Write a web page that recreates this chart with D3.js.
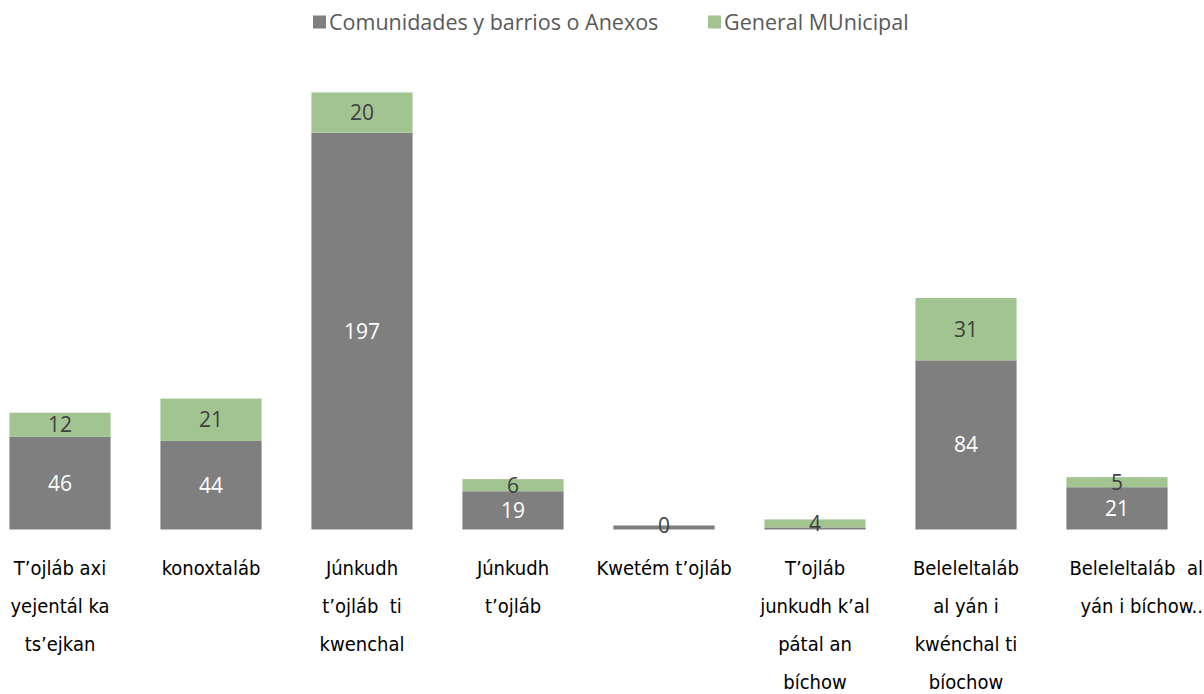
<!DOCTYPE html>
<html>
<head>
<meta charset="utf-8">
<script src="https://cdn.jsdelivr.net/npm/d3@7"></script>
<style>
	body { margin: 0; background: #fff; }
	svg { display: block; }
	text { white-space: pre; }
</style>
</head>
<body>
<svg class="chart"></svg>
<script>
var categories = [
	["T\u2019ojláb axi", "yejentál ka", "ts\u2019ejkan"],
	["konoxtaláb"],
	["Júnkudh", "t\u2019ojláb  ti", "kwenchal"],
	["Júnkudh", "t\u2019ojláb"],
	["Kwetém t\u2019ojláb"],
	["T\u2019ojláb", "junkudh k\u2019al", "pátal an", "bíchow"],
	["Beleleltaláb", "al yán i", "kwénchal ti", "bíochow"],
	["Beleleltaláb  al", "yán i bíchow.."]
];
var seriesNames = ["Comunidades y barrios o Anexos", "General MUnicipal"];
var comunidades = [46, 44, 197, 19, 2, 1, 84, 21];
var general = [12, 21, 20, 6, 0, 4, 31, 5];

var width = 1204;
var height = 694;
var baseline = 529.5;
var colors = ["#7f7f7f", "#a2c491"];

var svg = d3.select(".chart")
	.attr("width", width)
	.attr("height", height);

var data = categories.map((c, i) => ({
	key: i,
	lines: c,
	comunidades: comunidades[i],
	general: general[i]
}));

var x = d3.scaleBand()
	.domain(data.map(d => d.key))
	.range([-15.5, 1192.5])
	.paddingInner(0.33)
	.paddingOuter(0.165);

var y = d3.scaleLinear()
	.domain([0, 250])
	.range([baseline, 26]);

var stack = d3.stack().keys(["comunidades", "general"]);
var layers = stack(data);

var groups = svg.selectAll(".layer")
	.data(layers)
	.enter()
	.append("g")
	.attr("class", "layer")
	.attr("fill", (d, i) => colors[i]);

groups.selectAll("rect")
	.data(d => d)
	.enter()
	.append("rect")
	.attr("x", d => x(d.data.key))
	.attr("y", d => y(d[1]))
	.attr("width", x.bandwidth())
	.attr("height", d => y(d[0]) - y(d[1]));

// data labels, white on gray, dark on green
var labelColors = ["#ffffff", "#404040"];
layers.forEach(function(layer, li) {
	svg.append("g")
		.selectAll("text")
		.data(layer.filter(d => li == 1 || y(d[0]) - y(d[1]) > 12))
		.enter()
		.append("text")
		.attr("x", d => x(d.data.key) + x.bandwidth() / 2)
		.attr("y", d => (y(d[0]) + y(d[1])) / 2)
		.attr("dy", "0.36em")
		.attr("text-anchor", "middle")
		.attr("font-family", "Open Sans, sans-serif")
		.attr("font-size", 21)
		.attr("fill", labelColors[li])
		.text(d => d[1] - d[0]);
});

// category labels
var xLabels = svg.append("g")
	.attr("font-family", "DejaVu Sans Condensed, DejaVu Sans, sans-serif")
	.attr("font-size", 20)
	.attr("fill", "#000");

data.forEach(function(d, i) {
	var last = i == data.length - 1;
	var cx = last ? width - 1 : x(d.key) + x.bandwidth() / 2;
	xLabels.append("text")
		.attr("text-anchor", last ? "end" : "middle")
		.selectAll("tspan")
		.data(d.lines)
		.enter()
		.append("tspan")
		.attr("x", cx)
		.attr("y", (l, j) => 575 + j * 38)
		.text(l => l);
});

// legend
var legend = svg.append("g")
	.attr("font-family", "Open Sans, sans-serif")
	.attr("font-size", 21.5)
	.attr("fill", "#595959");

var legendX = [313, 708];
seriesNames.forEach(function(name, i) {
	var g = legend.append("g")
		.attr("transform", "translate(" + legendX[i] + ",22)");
	g.append("rect")
		.attr("width", 13)
		.attr("height", 13)
		.attr("y", -6.5)
		.attr("fill", colors[i]);
	g.append("text")
		.attr("x", 16)
		.attr("dy", "0.36em")
		.text(name);
});
</script>
</body>
</html>
